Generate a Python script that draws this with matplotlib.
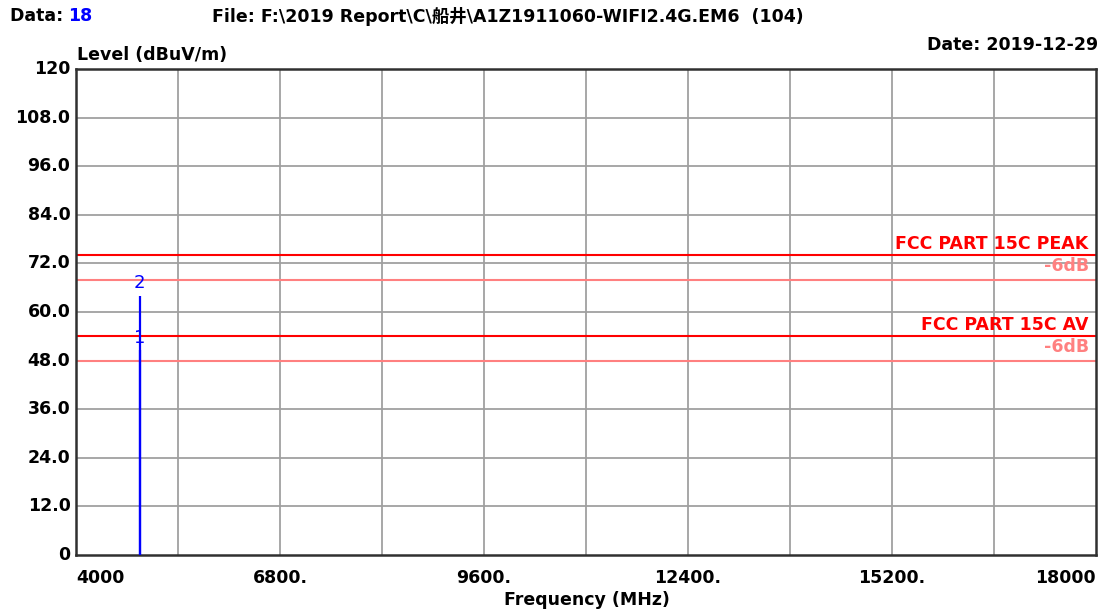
import matplotlib
matplotlib.use("Agg")
import matplotlib.pyplot as plt

# ---- data ----
freq_mhz = [4874]
peak_level = [64.0]
avg_level = [50.5]
marker_ids = ["1", "2"]
limit_names = ["FCC PART 15C PEAK", "FCC PART 15C AV"]
limit_values = [74.0, 54.0]
margin_db = 6.0
y_ticks = [0, 12, 24, 36, 48, 60, 72, 84, 96, 108, 120]
y_labels = ["0", "12.0", "24.0", "36.0", "48.0", "60.0", "72.0", "84.0", "96.0", "108.0", "120"]
x_grid = [4000 + 1400 * i for i in range(11)]
x_label_ticks = [4000, 6800, 9600, 12400, 15200, 18000]
x_labels = ["4000", "6800.", "9600.", "12400.", "15200.", "18000"]

plt.rcParams['font.family'] = ['DejaVu Sans', 'Noto Sans CJK SC']
FS = 12.5

fig = plt.figure(figsize=(11.18, 6.14), dpi=100)
ax = fig.add_axes([76/1118, 1-555/614, (1096-76)/1118, (555-69)/614])
ax.set_xlim(4000, 18000)
ax.set_ylim(0, 120)

# grid
for xv in x_grid[1:-1]:
    ax.axvline(xv, color="#a0a0a0", lw=1.3, zorder=1)
for yv in y_ticks[1:-1]:
    ax.axhline(yv, color="#a0a0a0", lw=1.3, zorder=1)

# limits
for name, val in zip(limit_names, limit_values):
    ax.axhline(val, color="#ff0000", lw=1.5, zorder=2)
    ax.axhline(val - margin_db, color="#ff8080", lw=1.5, zorder=2)
    ax.text(17900, val + 0.6, name, color="#ff0000", fontsize=FS, fontweight="bold",
            ha="right", va="bottom", zorder=4)
    ax.text(17900, val - 0.4, "-6dB", color="#ff8080", fontsize=FS, fontweight="bold",
            ha="right", va="top", zorder=4)

# data
ax.vlines(freq_mhz, 0, peak_level, color="#0000ff", lw=1.6, zorder=3)
ax.vlines(freq_mhz, 0, avg_level, color="#0000ff", lw=1.6, zorder=3)
ax.text(freq_mhz[0], avg_level[0] + 0.8, marker_ids[0], color="#0000ff", fontsize=13,
        ha="center", va="bottom", zorder=4)
ax.text(freq_mhz[0], peak_level[0] + 1.0, marker_ids[1], color="#0000ff", fontsize=13,
        ha="center", va="bottom", zorder=4)

# ticks
ax.set_yticks(y_ticks)
ax.set_yticklabels(y_labels, fontsize=FS, fontweight="bold")
ax.set_xticks(x_label_ticks)
ax.set_xticklabels(x_labels, fontsize=FS, fontweight="bold")
ax.tick_params(axis="y", length=0, pad=4)
ax.tick_params(axis="x", length=0, pad=10)
xl = ax.get_xticklabels()
xl[0].set_ha("left")
xl[-1].set_ha("right")
for lab in ax.get_yticklabels():
    lab.set_va("center")

for s in ax.spines.values():
    s.set_color("#303030")
    s.set_linewidth(1.8)

# header texts
fig.text(10/1118, 1-16/614, "Data: ", fontsize=FS, fontweight="bold", va="center", ha="left")
fig.text(68/1118, 1-16/614, "18", fontsize=FS, fontweight="bold", color="#0000ff", va="center", ha="left")
fig.text(212/1118, 1-16/614, "File: F:\\2019 Report\\C\\船井\\A1Z1911060-WIFI2.4G.EM6  (104)",
         fontsize=FS, fontweight="bold", va="center", ha="left")
fig.text(1098/1118, 1-45/614, "Date: 2019-12-29", fontsize=FS, fontweight="bold", va="center", ha="right")
fig.text(77/1118, 1-55/614, "Level (dBuV/m)", fontsize=FS, fontweight="bold", va="center", ha="left")
fig.text(587/1118, 1-600/614, "Frequency (MHz)", fontsize=FS, fontweight="bold", va="center", ha="center")

fig.savefig("out.png", dpi=100)
